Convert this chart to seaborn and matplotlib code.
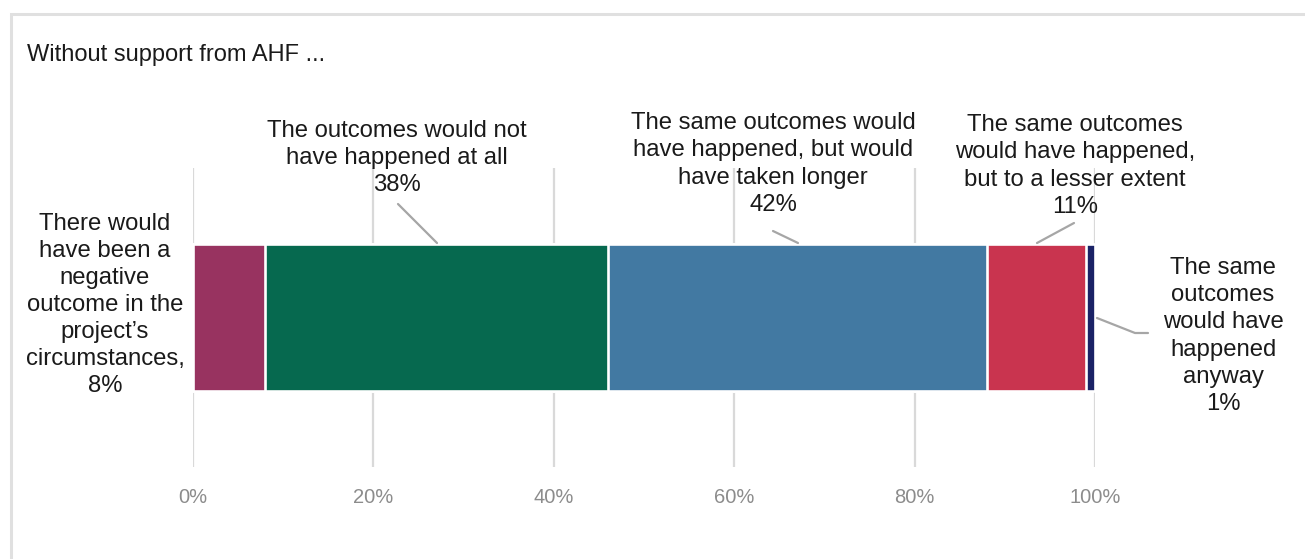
import numpy as np
import pandas as pd
import matplotlib
matplotlib.use("Agg")
import matplotlib.pyplot as plt
import seaborn as sns
from matplotlib.patches import Rectangle

# ---- data ----
categories = [
    "There would have been a negative outcome in the project's circumstances",
    "The outcomes would not have happened at all",
    "The same outcomes would have happened, but would have taken longer",
    "The same outcomes would have happened, but to a lesser extent",
    "The same outcomes would have happened anyway",
]
values = [8, 38, 42, 11, 1]
colors = ["#983360", "#06694F", "#4279A2", "#C9344F", "#1A2266"]
label_texts = [
    "There would\nhave been a\nnegative\noutcome in the\nproject\u2019s\ncircumstances,\n8%",
    "The outcomes would not\nhave happened at all\n38%",
    "The same outcomes would\nhave happened, but would\nhave taken longer\n42%",
    "The same outcomes\nwould have happened,\nbut to a lesser extent\n11%",
    "The same\noutcomes\nwould have\nhappened\nanyway\n1%",
]
xticks = [0, 20, 40, 60, 80, 100]
xtick_labels = ["0%", "20%", "40%", "60%", "80%", "100%"]
title = "Without support from AHF ..."

sns.set_theme(style="white")
plt.rcParams["font.family"] = ["Liberation Sans", "DejaVu Sans"]

W, H = 1305, 559
fig = plt.figure(figsize=(W / 100, H / 100), dpi=100)
fig.patch.set_facecolor("white")

# outer frame
fig.patches.append(Rectangle((11 / W, -0.1), 1.2, (559 - 14) / H + 0.1, transform=fig.transFigure,
                             fill=False, edgecolor="#E0E0E0", linewidth=2.2))

ax = fig.add_axes([193 / W, (559 - 467) / H, 902 / W, 299 / H])

cum = np.cumsum(values)
df = pd.DataFrame({"cat": categories, "cum": cum, "grp": ["all"] * len(values)})
sns.barplot(data=df, x="cum", y="grp", hue="cat", hue_order=categories[::-1],
            palette=dict(zip(categories, colors)), dodge=False, width=0.49,
            saturation=1, edgecolor="white", linewidth=1.9, legend=False, ax=ax, orient="h")

ax.set_xlim(0, 100)
ax.set_ylim(0.5, -0.5)
ax.set_xticks(xticks)
ax.set_xticklabels(xtick_labels, family=["Liberation Sans Narrow", "Liberation Sans"],
                   fontsize=14.5, color="#8C8C8C")
ax.tick_params(axis="x", length=0, pad=15)
ax.set_yticks([])
ax.set_xlabel("")
ax.set_ylabel("")
for s in ax.spines.values():
    s.set_visible(False)
ax.grid(axis="x", color="#D9D9D9", linewidth=1.6)
ax.grid(axis="y", visible=False)
ax.set_axisbelow(True)

fig.text(27 / W, 1 - 55 / H, title, fontsize=17, color="#1A1A1A", ha="left", va="center")

# labels (positions in figure pixels, leader lines)
lab_fs = 17.2
ls = 1.3
def figpx(x, y):
    return (x / W, 1 - y / H)

label_pos = [(105, 305), (397, 158), (773, 164), (1075, 166), (1223, 336)]
for txt, (px, py) in zip(label_texts, label_pos):
    fig.text(*figpx(px, py), txt, fontsize=lab_fs, color="#1A1A1A", ha="center",
             va="center", linespacing=ls, multialignment="center")

def leader(points):
    xs = [p[0] / W for p in points]
    ys = [1 - p[1] / H for p in points]
    fig.add_artist(plt.Line2D(xs, ys, transform=fig.transFigure, color="#A6A6A6", linewidth=1.6))

leader([(398, 204), (437, 243)])
leader([(773, 231), (798, 243)])
leader([(1074, 223), (1037, 243)])
leader([(1097, 318), (1135, 333), (1148, 333)])

fig.savefig("out.png", dpi=100, facecolor="white")
